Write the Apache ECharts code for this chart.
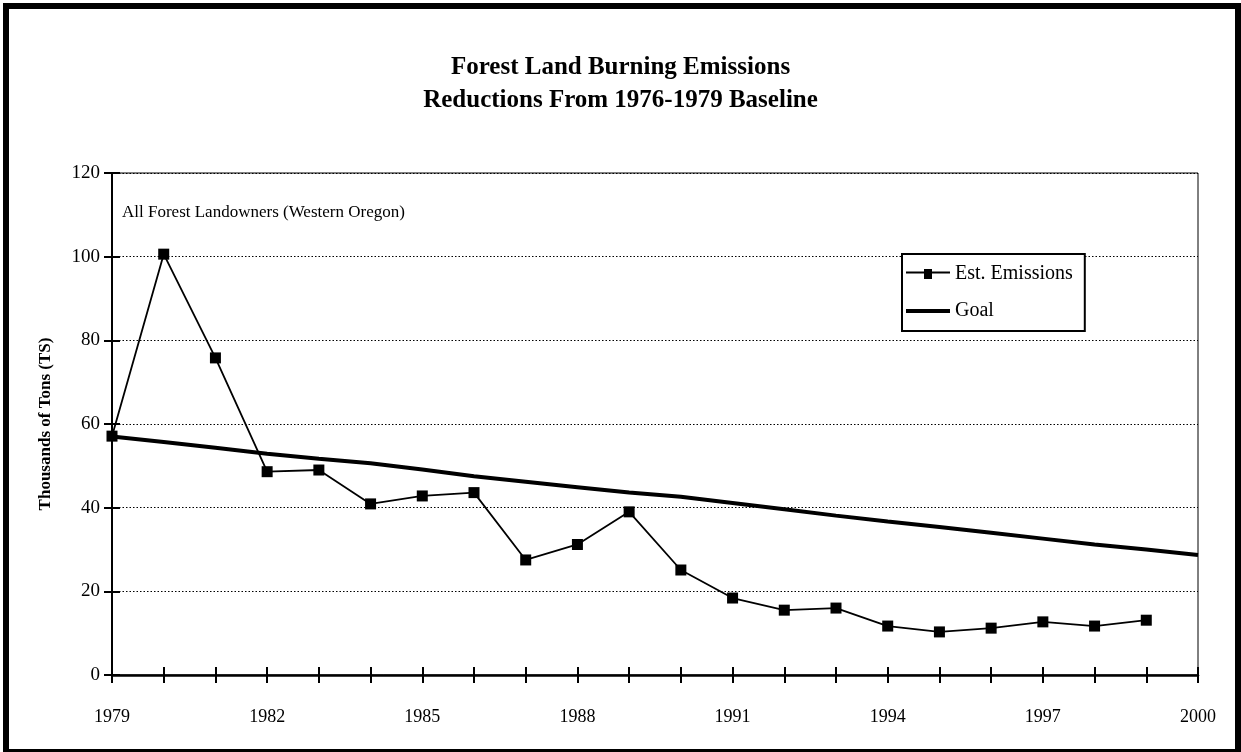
<!DOCTYPE html>
<html>
<head>
<meta charset="utf-8">
<script src="https://cdn.jsdelivr.net/npm/echarts@6/dist/echarts.min.js"></script>
<style>
html,body{margin:0;padding:0;background:#fff;}
#chart{width:1241px;height:752px;}
</style>
</head>
<body>
<div id="chart"></div>
<script>
const years = [1979,1980,1981,1982,1983,1984,1985,1986,1987,1988,1989,1990,1991,1992,1993,1994,1995,1996,1997,1998,1999];
const emissions = [57.1,100.6,75.8,48.6,49.0,40.9,42.8,43.6,27.5,31.2,39.0,25.1,18.4,15.5,16.0,11.7,10.3,11.2,12.7,11.7,13.1];
const goalYears = [1979,1980,1981,1982,1983,1984,1985,1986,1987,1988,1989,1990,1991,1992,1993,1994,1995,1996,1997,1998,1999,2000];
const goal = [57.0,55.7,54.3,52.9,51.7,50.6,49.1,47.5,46.2,44.9,43.6,42.6,41.1,39.6,38.1,36.7,35.4,34.0,32.6,31.2,30.0,28.7];
const yTicks = [0,20,40,60,80,100,120];

const FONT = '"Liberation Serif","Times New Roman",serif';
const chart = echarts.init(document.getElementById('chart'));

const emData = years.map((y,i)=>[y, emissions[i]]);
const goalData = goalYears.map((y,i)=>[y, goal[i]]);

chart.setOption({
  animation:false,
  backgroundColor:'#fff',
  title:{
    text:'Forest Land Burning Emissions\nReductions From 1976-1979 Baseline',
    left:'center', top:46,
    textStyle:{fontFamily:FONT, fontWeight:'bold', fontSize:25, lineHeight:33, color:'#000'}
  },
  legend:{
    left:902, top:254,
    orient:'vertical',
    itemWidth:44, itemHeight:14, itemGap:13,
    itemStyle:{color:'#000'},
    symbolKeepAspect:true,
    padding:[8,12,8,4],
    borderColor:'#000', borderWidth:2,
    backgroundColor:'#fff',
    textStyle:{fontFamily:FONT, fontSize:20, color:'#000', lineHeight:24},
    data:[
      {name:'Est. Emissions', icon:'path://M0,5.5 L18,5.5 L18,3 L26,3 L26,5.5 L44,5.5 L44,7.5 L26,7.5 L26,13 L18,13 L18,7.5 L0,7.5 Z'},
      {name:'Goal', icon:'path://M0,0 L44,0 L44,4 L0,4 Z'}
    ]
  },
  grid:{left:112, right:43, top:173, bottom:77, show:true, borderColor:'#000', borderWidth:1, containLabel:false},
  xAxis:[{
    type:'value', min:1979, max:2000, interval:1,
    axisLine:{lineStyle:{color:'#000', width:2.5}},
    axisTick:{length:8, lineStyle:{color:'#000', width:2}},
    axisLabel:{margin:33, fontFamily:FONT, fontSize:18, color:'#000',
      formatter:v=>((v-1979)%3===0 ? String(v) : '')},
    splitLine:{show:false}
  },{
    type:'value', min:1979, max:2000, interval:1, position:'bottom',
    axisLine:{show:false},
    axisTick:{inside:true, length:8, lineStyle:{color:'#000', width:2}},
    axisLabel:{show:false}, splitLine:{show:false}
  }],
  yAxis:[{
    type:'value', min:yTicks[0], max:yTicks[yTicks.length-1], interval:20,
    name:'Thousands of Tons (TS)', nameLocation:'middle', nameGap:58, nameRotate:90,
    nameTextStyle:{fontFamily:FONT, fontWeight:'bold', fontSize:17, color:'#000'},
    axisLine:{show:true, lineStyle:{color:'#000', width:2}},
    axisTick:{show:true, length:8, lineStyle:{color:'#000', width:2}},
    axisLabel:{margin:12, fontFamily:FONT, fontSize:19, color:'#000'},
    splitLine:{show:true, lineStyle:{color:'#000', width:1, type:[1.5,2]}}
  },{
    type:'value', min:0, max:120, interval:20, position:'left',
    axisLine:{show:false},
    axisTick:{show:true, inside:true, length:8, lineStyle:{color:'#000', width:2}},
    axisLabel:{show:false}, splitLine:{show:false}
  }],
  graphic:[
    {type:'text', left:122, top:204, style:{text:'All Forest Landowners (Western Oregon)', font:'17px '+FONT, fill:'#000'}},
    {type:'rect', shape:{x:3,y:3,width:1238,height:6}, style:{fill:'#000'}},
    {type:'rect', shape:{x:3,y:3,width:6,height:749}, style:{fill:'#000'}},
    {type:'rect', shape:{x:1235,y:3,width:6,height:749}, style:{fill:'#000'}},
    {type:'rect', shape:{x:3,y:749,width:1238,height:3}, style:{fill:'#000'}}
  ],
  series:[
    {name:'Goal', type:'line', data:goalData, symbol:'none', showSymbol:false,
     lineStyle:{color:'#000', width:4}, itemStyle:{color:'#000'}, z:2},
    {name:'Est. Emissions', type:'line', data:emData, symbol:'rect', symbolSize:11,
     lineStyle:{color:'#000', width:1.8}, itemStyle:{color:'#000'}, z:3}
  ]
});
</script>
</body>
</html>
